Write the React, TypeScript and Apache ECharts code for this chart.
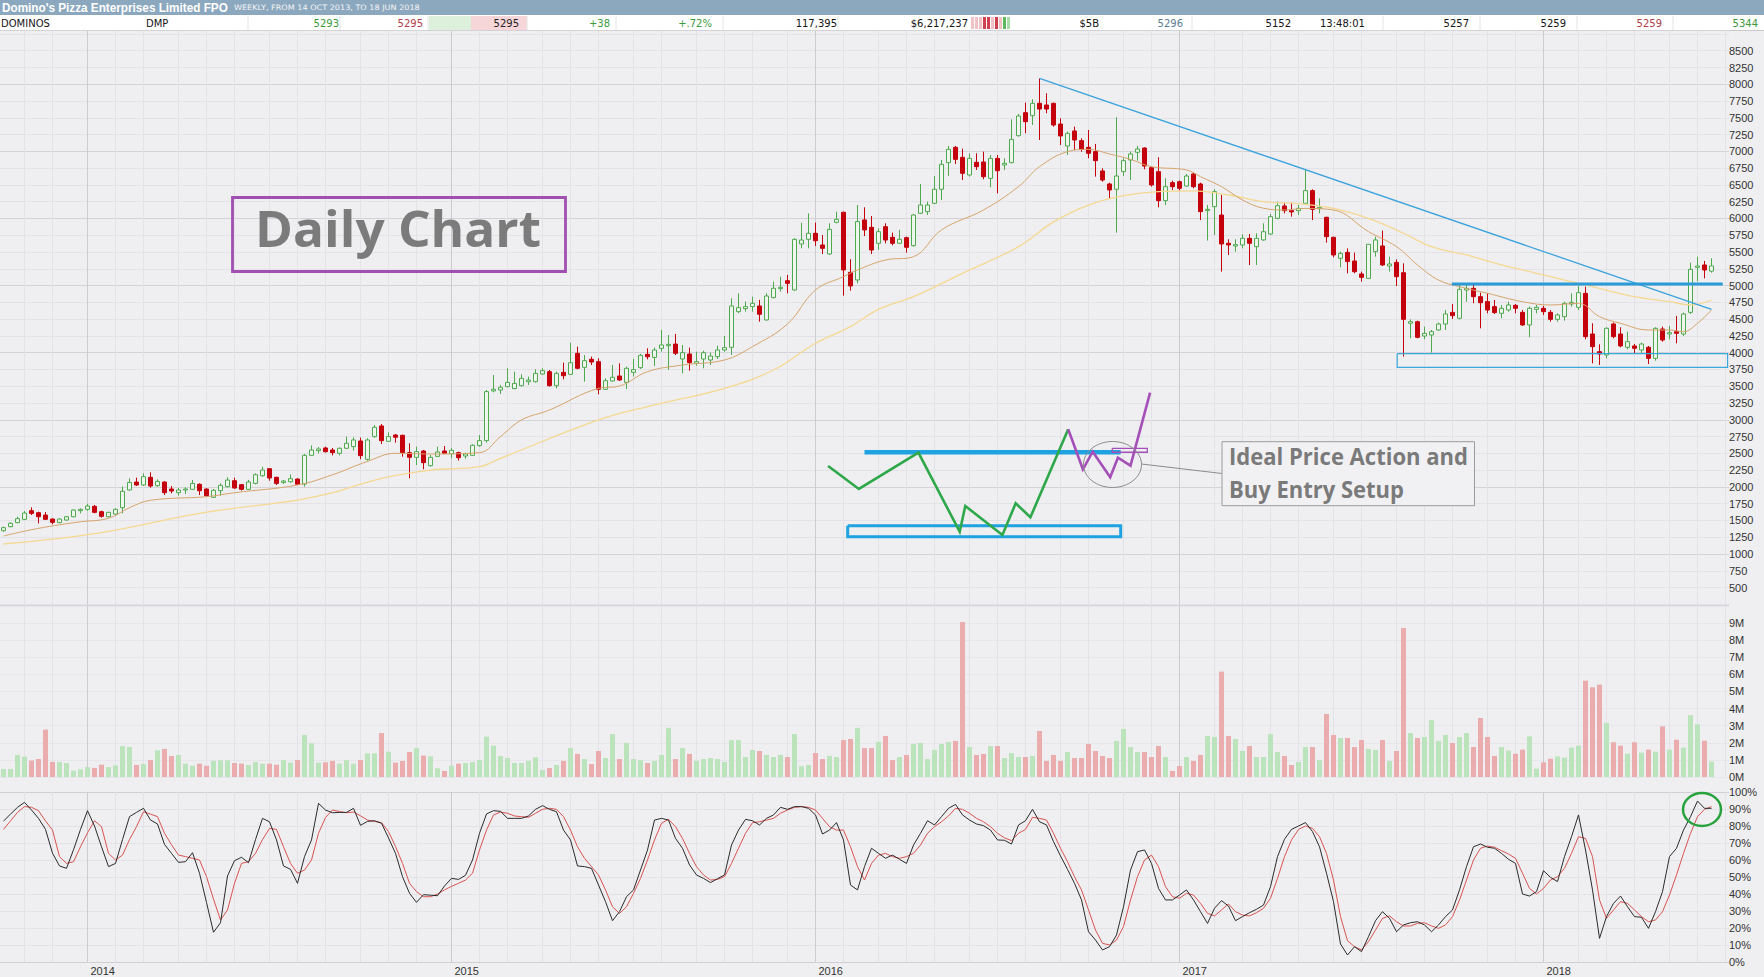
import React, { useEffect, useRef } from "react";
import * as echarts from "echarts";

// ---------------- data (weekly, from 14 Oct 2013) ----------------
const startDate = "2013-10-14";
const slotCount = 247; // 245 weeks + 2 empty slots on the right

const opens = [1347,1407,1467,1516,1645,1615,1580,1521,1467,1506,
1555,1645,1665,1710,1630,1555,1595,1690,1953,2072,
2028,2142,2018,2072,1968,1914,1953,1963,2038,1968,
1844,1943,2003,2092,2033,1963,2052,2166,2271,2142,
2067,2077,2117,2043,2470,2540,2580,2550,2500,2575,
2600,2684,2410,2749,2908,2679,2773,2768,2510,2440,
2535,2316,2455,2535,2495,2510,2460,2470,2615,2689,
3430,3444,3494,3464,3508,3568,3568,3682,3717,3508,
3707,3677,3990,3781,3901,3866,3454,3578,3653,3558,
3707,3777,3975,3930,4065,4104,4129,3906,3980,3841,
3906,3891,3940,4040,4080,4611,4656,4686,4696,4488,
4820,4955,5073,4934,5620,5689,5779,5605,5471,5943,
6092,5197,5084,5978,5868,5630,5878,5719,5630,5714,
5595,6077,6102,6226,6435,6832,7060,6911,6648,6837,
6842,6598,6896,6797,6832,7234,7577,7532,7716,7691,
7716,7408,7080,7304,7160,7060,6996,6708,6514,6435,
6698,6872,6986,7050,6757,6698,6266,6534,6549,6484,
6663,6514,6117,6176,6052,5630,5590,5605,5704,5580,
5680,5769,6002,6186,6117,6117,6226,6415,6146,6017,
5719,5406,5495,5366,5173,5108,5506,5590,5292,5346,
5192,4438,4462,4248,4263,4338,4427,4601,4512,4934,
4959,4835,4761,4686,4587,4636,4706,4601,4413,4646,
4661,4601,4497,4537,4726,4676,4884,4278,4015,3965,
4428,4278,4080,4100,4040,4080,3916,4353,4278,4313,
4278,4601,5272,5307,5215];

const closes = [1392,1457,1526,1610,1605,1555,1516,1471,1521,1555,
1655,1665,1715,1620,1561,1620,1665,1934,2067,2028,
2152,2013,2082,1914,1938,1953,1968,2052,1943,1869,
1948,2023,2102,1983,1963,2072,2181,2251,2132,2052,
2087,2122,2038,2470,2550,2565,2525,2510,2575,2650,
2699,2465,2699,2888,2689,2749,2739,2510,2440,2525,
2361,2440,2520,2500,2545,2435,2490,2620,2689,3420,
3455,3484,3558,3543,3618,3593,3692,3732,3508,3692,
3657,3851,3767,3881,3861,3454,3583,3633,3593,3767,
3747,3960,3940,4040,4115,4124,3990,4000,3851,3866,
4000,3950,4040,4075,4696,4671,4686,4736,4572,4845,
4960,4974,5033,5689,5679,5779,5669,5555,5838,5987,
5233,4994,5953,5829,5530,5803,5679,5630,5689,5570,
6052,6201,6201,6435,6807,7030,6881,6673,6896,6772,
6623,6896,6712,6822,7179,7527,7443,7716,7631,7631,
7393,7229,7269,7170,7030,6971,6862,6573,6425,6633,
6862,6961,7035,6782,6499,6266,6474,6474,6449,6633,
6474,6102,6136,6400,5620,5605,5610,5704,5630,5704,
5803,6027,6191,6117,6097,6151,6415,6136,6166,5729,
5456,5480,5357,5207,5123,5615,5680,5307,5322,5133,
4497,4462,4229,4288,4313,4427,4577,4552,4944,4959,
4835,4745,4636,4597,4661,4711,4661,4413,4661,4676,
4611,4497,4562,4735,4750,4894,4239,4090,3980,4363,
4239,4100,4164,4065,4129,3916,4363,4189,4298,4288,
4577,5242,5292,5232,5293];

const lows = [1332,1397,1457,1506,1580,1456,1506,1442,1457,1496,
1546,1605,1645,1606,1541,1546,1580,1605,1944,2013,
2013,1988,2003,1879,1904,1869,1894,1954,1879,1854,
1834,1869,1993,1973,1944,1954,2038,2152,2092,2028,
2043,2063,2028,2003,2460,2500,2510,2470,2470,2565,
2540,2411,2391,2734,2639,2669,2659,2450,2127,2326,
2262,2301,2445,2490,2425,2391,2420,2460,2599,2659,
3410,3384,3484,3459,3494,3519,3558,3668,3494,3469,
3603,3668,3752,3568,3817,3380,3444,3568,3578,3459,
3643,3757,3901,3802,4015,3742,3966,3693,3732,3807,
3767,3817,3906,4015,3966,4587,4612,4612,4462,4477,
4810,4910,4885,4925,5555,5555,5590,5471,5456,5928,
4850,4925,5034,5739,5471,5531,5630,5600,5620,5491,
5580,6067,6052,6216,6276,6634,6812,6574,6624,6723,
6584,6465,6375,6723,6822,7220,7270,7394,7170,7568,
7369,7096,6947,7021,6996,6897,6624,6549,6301,5789,
6634,6574,6862,6733,6475,6167,6201,6425,6415,6475,
6450,5978,5670,5754,5208,5456,5506,5555,5307,5307,
5670,5754,5988,6077,6027,6052,6216,5978,6077,5640,
5421,5272,5183,5183,5059,5098,5431,5292,5208,4994,
3941,4214,4214,4199,4000,4328,4338,4502,4497,4760,
4736,4363,4587,4577,4512,4612,4587,4398,4229,4587,
4562,4462,4462,4477,4686,4636,4199,3841,3817,3916,
4214,4080,4050,3990,3990,3831,3881,4164,4199,4139,
4249,4577,5059,5108,5193];

const highs = [1407,1472,1556,1640,1695,1630,1625,1531,1531,1566,
1665,1680,1745,1730,1645,1630,1680,2004,2127,2137,
2202,2217,2112,2082,2013,1983,1993,2103,2053,1978,
1968,2053,2142,2137,2043,2103,2202,2301,2276,2152,
2102,2187,2127,2490,2619,2595,2599,2580,2589,2749,
2739,2734,2724,2922,2937,2813,2788,2778,2649,2599,
2550,2475,2599,2609,2575,2525,2510,2634,2773,3444,
3668,3519,3767,3717,3678,3643,3752,3767,3742,3717,
3851,4150,4090,3966,3941,3916,3618,3817,3841,3792,
3906,3981,4065,4075,4338,4264,4279,4115,4075,4015,
4030,4000,4105,4249,4810,4885,4761,4835,4786,4885,
5059,5133,5158,5705,5938,6077,5938,5754,5928,6102,
6102,5392,6201,6166,6037,5853,5928,5789,5829,5729,
6067,6514,6251,6634,6872,7081,7081,7041,6971,6971,
6996,6946,6946,6897,7478,7558,7727,7776,8089,7866,
7727,7493,7294,7369,7195,7319,7111,6748,6534,7508,
6897,6996,7081,7061,6773,6912,6599,6564,6564,6663,
6683,6534,6201,6435,6350,5690,5690,5764,5769,5779,
5928,6067,6251,6236,6236,6201,6723,6435,6301,6027,
5729,5506,5555,5491,5208,5620,5729,5819,5431,5391,
5332,4497,4477,4388,4338,4448,4636,4726,5009,5034,
5009,4895,4885,4785,4711,4760,4726,4636,4686,4711,
4696,4636,4587,4760,4885,4994,4984,4438,4125,4378,
4448,4378,4313,4130,4150,4100,4378,4388,4398,4547,
4597,5342,5431,5367,5406];

// weekly volume, millions of shares
const volumesM = [0.47,0.47,1.29,1.19,0.96,1.05,2.77,0.88,0.88,0.82,
0.37,0.45,0.58,0.53,0.72,0.58,0.68,1.81,1.75,0.70,
0.76,0.99,1.56,1.64,1.23,1.29,0.78,0.66,0.78,0.66,
0.94,0.97,0.97,0.82,0.78,0.70,0.88,0.78,0.78,0.72,
0.99,0.84,0.99,2.46,1.97,0.84,0.86,0.94,0.78,0.99,
0.78,0.99,1.38,1.38,2.57,1.48,0.84,0.94,1.46,1.69,
1.25,1.21,0.51,0.35,0.66,0.78,0.82,0.88,0.99,2.36,
1.83,1.23,1.11,0.82,0.82,0.94,1.15,0.41,0.53,0.70,
0.94,1.70,1.35,1.05,0.76,1.52,1.11,2.51,1.05,1.99,
1.05,0.99,0.82,0.94,1.29,2.87,1.05,1.70,1.35,0.94,
1.05,1.11,1.05,0.88,2.16,2.16,1.17,1.58,1.52,1.29,
1.17,1.29,1.17,2.51,0.64,0.70,1.40,1.05,1.23,1.17,
2.16,2.22,2.87,1.69,1.69,2.05,2.40,0.99,1.17,1.29,
1.93,1.99,1.05,1.58,1.93,2.05,2.11,9.06,1.75,1.29,
1.35,1.81,1.81,1.11,1.40,1.17,1.17,1.23,2.69,0.94,
1.29,0.94,1.46,1.11,1.11,1.93,1.52,1.23,1.11,2.11,
2.81,1.75,1.46,1.46,1.17,1.81,1.17,0.35,0.64,1.17,
0.94,1.29,2.40,2.34,6.16,2.40,2.22,1.52,1.81,1.17,
1.17,2.51,1.46,1.23,0.70,0.88,1.75,1.75,0.99,3.68,
2.46,2.28,2.28,1.75,2.16,1.64,1.58,2.16,0.94,1.52,
8.71,2.57,2.28,2.34,3.33,2.11,2.46,1.99,2.34,2.57,
1.75,3.45,2.34,1.23,1.75,1.54,1.36,1.60,2.38,0.49,
0.86,1.07,1.21,1.13,1.72,1.83,5.63,5.24,5.40,3.16,
2.03,1.83,1.36,2.03,1.42,1.60,1.48,2.96,1.60,2.18,
1.72,3.61,3.08,2.12,0.90];

// stochastic %K (black) and %D (red), percent
const stochK = [82.9,87,91,93.9,89.4,84.5,78,64,56.5,55.1,
66,78,89,80,67.8,56.1,58,72,85.5,88,
90.4,83.5,81.2,69.2,63.9,58.6,59,64.3,52.2,35,
17.5,23.1,50.6,59.6,61.6,58.4,72,84.5,82.5,71.8,
56.5,54.5,46.3,62,71.8,93.3,89.4,87.8,88,88,
90.4,80.4,82.7,83.1,81.6,73,63.9,50.2,40.4,35.1,
39.6,39.3,39,44.7,49.2,48.6,51,60,75.7,87.1,
89,88.6,84.5,84.5,84.5,85.9,89.8,92,89.8,88.4,
77.6,71.8,56.5,56.1,55.1,45.3,35.5,24.3,29.6,38.4,
42.4,54.1,65.9,83.5,84.5,83.5,72.7,66.9,57.1,51.2,
49.2,46.7,49,51.2,68.8,77.6,83.9,83.1,80.6,84.5,
86.5,91,89.8,91.4,91.4,90.4,86.5,75.3,77.6,82,
71.8,45.3,42.4,56.1,66.9,63.9,61,62.9,60.4,58,
68.8,75.7,83.1,80.6,85.5,90.4,92.7,86.5,83.5,81.2,
80.2,77.6,71.8,71.6,69.4,80.6,83.1,89.8,82.5,80.6,
70.8,62.4,54.5,46.3,36.5,17.8,12.9,7.1,9,15.9,
32.5,54.1,64.9,65.9,58,43.3,36.5,36.5,39.4,42.4,
36.5,29.6,22.7,31.6,36.1,32.9,24.3,26.7,29,31,
33.5,44.3,62,72.2,78,80,82,76.7,67.8,52.2,
35.5,10.6,4.1,9,6.1,14.9,24.3,29.6,25.7,17.8,
21.8,23.1,23.7,21.8,17.8,21.8,26.7,30.6,42.4,56.1,
67.8,69.4,67.5,66.9,63.9,60.4,58,40,38.8,41.4,
53.7,49.8,47.3,62,73.7,86.5,65.9,42.4,13.9,26.7,
34.5,38.8,32.5,26.7,26.3,19.8,29.6,41.4,62,66.9,
77.6,85.5,94.7,90.4,90.4];

const stochD = [78,83,88,91.4,91,89,83,77.6,62,58,
59,67.8,76,83.1,79.6,63.9,60,62.9,72,79.6,
88.4,87,85.5,75.7,69,62.9,62,61,60,50.2,
37,24.7,30.6,46.3,58,59,63.9,72,78.6,78,
67.8,58,52.2,54.1,60,75.7,85,89.4,88.5,87.8,
88.2,86,83.5,82.7,82,76.7,68,58,46.3,41.4,
38.4,38.4,40,42.4,44.5,46.3,48.2,52.2,65.9,77.6,
86.5,88.2,87.5,85.9,85.5,85.1,87.5,89.8,90.4,89.8,
85.5,77.6,67.8,61,56.1,51.2,42.4,32.5,28.6,32.5,
40.4,49.2,60,71.8,81.6,83.9,79.6,72.7,63.9,56.1,
51.2,48.2,48.6,50.2,58,66.9,75.7,82,82.5,83.5,
84.5,87.5,89.4,91,91.4,91,89.4,84.5,79.6,77.6,
77.6,67.8,56.1,48.2,58,62.9,63.9,62,61,62,
63.9,68.8,75.7,79.6,82.5,85.9,90.4,89.8,87.5,84.5,
82.5,79.6,75.7,73,71.4,75.7,78,85.1,84.5,83.5,
75.7,66.9,59,50.2,42.4,30.6,18.8,11,10,12.9,
20.8,36.5,50.2,60,62.9,56.1,44.3,38.4,37.5,40.4,
39.4,34.5,28.6,27.1,30.6,34.1,29.6,27.6,27.1,29,
31.6,37.5,49.2,62,71.8,78,80,78.6,73.7,63.9,
48.2,26.7,12.5,9,7.1,12,18.8,25.7,27.1,23.7,
21.2,21.2,22.7,23.1,21.2,19.8,21.8,26.7,36.5,48.2,
60,66.9,68.2,67.5,65.5,63.5,61,52.2,43.3,40,
43.3,48.2,50.2,55.1,63.9,73.7,72.7,62,36.5,25.7,
30.6,35.5,34.5,30.6,26.7,23.7,24.7,29.6,39.4,51.2,
63.9,75.7,85.5,89.8,91.4];

// moving averages: [week index, price]
const maFast = [[0,1268],[5,1382],[11,1480],[15,1531],[18,1690],[21,1800],[29,1854],[33,1913],[42,2028],[47,2180],[52,2380],[56,2500],[61,2490],[68,2510],[71,2749],[74,2997],[78,3146],[85,3469],[88,3503],[92,3717],[97,3816],[103,3891],[107,4090],[112,4428],[116,4934],[120,5133],[122,5233],[126,5381],[130,5431],[134,5829],[140,6127],[145,6474],[148,6772],[152,6996],[155,7030],[158,6961],[161,6881],[164,6772],[169,6723],[171,6623],[174,6474],[177,6276],[180,6152],[183,6127],[186,6150],[190,6127],[195,5804],[199,5580],[202,5307],[205,5083],[208,4984],[212,4885],[217,4760],[221,4711],[225,4735],[228,4537],[231,4438],[235,4338],[238,4338],[240,4313],[242,4438],[244,4637]];
const maSlow = [[0,1149],[14,1318],[28,1606],[42,1804],[47,1913],[54,2127],[61,2251],[68,2301],[71,2426],[85,2997],[92,3196],[103,3469],[110,3742],[116,4140],[121,4388],[125,4646],[130,4835],[137,5183],[145,5580],[150,5950],[155,6200],[160,6340],[165,6400],[170,6410],[175,6350],[180,6250],[185,6220],[190,6150],[195,6000],[200,5780],[204,5580],[209,5456],[214,5307],[219,5183],[223,5083],[228,4959],[233,4835],[238,4760],[241,4711],[244,4785]];

// drawn annotations: [week index, price]
const trendLine = [[148,8089],[244,4647]];
const resistanceLine = [[206.9,5024],[245.6,5024]];
const supportBox = [[199.1,3985],[246.3,3985],[246.3,3782],[199.1,3782],[199.1,3985]];
const idealResistance = [[123.0,2516],[159.6,2516]];
const idealBox = [[120.6,1422],[159.6,1422],[159.6,1258],[120.6,1258],[120.6,1422]];
const idealGreen = [[117.8,2311],[122.2,1969],[130.7,2510],[136.6,1332],[137.4,1715],[142.7,1283],[144.6,1755],[146.7,1547],[152.1,2858]];
const idealPurple = [[152.1,2858],[154.2,2262],[155.6,2525],[158.1,2143],[159.2,2435],[161.0,2316],[163.8,3404]];
const entryBox = [[158.4,2575],[163.4,2575],[163.4,2516],[158.4,2516],[158.4,2575]];

// header strip
const titleText = "Domino's Pizza Enterprises Limited FPO";
const subtitleText = "WEEKLY, FROM 14 OCT 2013, TO 18 JUN 2018";
const headerValues = ["DOMINOS","DMP","5293","5295","5295","+38","+.72%","117,395","$6,217,237","$5B","5296","5152","13:48:01","5257","5259","5259","5344"];

// ---------------- layout / styles ----------------
const GREEN_TXT = "#3c9a3c", RED_TXT = "#b0404c", DARK = "#151515";
const headerLayout = [
  { x: 1, align: "left", color: DARK }, { x: 146, align: "left", color: DARK },
  { x: 339, align: "right", color: GREEN_TXT }, { x: 423, align: "right", color: RED_TXT },
  { x: 519, align: "right", color: "#222" }, { x: 610, align: "right", color: GREEN_TXT },
  { x: 712, align: "right", color: GREEN_TXT }, { x: 837, align: "right", color: DARK },
  { x: 968, align: "right", color: DARK }, { x: 1099, align: "right", color: DARK },
  { x: 1183, align: "right", color: "#5c7c94" }, { x: 1291, align: "right", color: DARK },
  { x: 1320, align: "left", color: DARK }, { x: 1469, align: "right", color: DARK },
  { x: 1566, align: "right", color: DARK }, { x: 1662, align: "right", color: RED_TXT },
  { x: 1758, align: "right", color: GREEN_TXT },
];
const headerSeparators = [248, 340, 428, 527, 616, 723, 838, 1192, 1383, 1480, 1577, 1673];
const miniBarColors = ["#f0c2c6","#f0c2c6","#f0c2c6","#d0404c","#d0404c","#f0c2c6","#d0404c","#f0c2c6","#5cb85c","#a8dca8"];

const START_MS = Date.parse(startDate + "T00:00:00Z");
const WEEK_MS = 7 * 86400000;
const slotDate = (i: number) => new Date(START_MS + i * WEEK_MS);
const categories = Array.from({ length: slotCount }, (_, i) => slotDate(i).toISOString().slice(0, 10));
const isMonthStart = (i: number) => slotDate(i).getUTCDate() <= 7;
const isYearStart = (i: number) => { const d = slotDate(i); return d.getUTCDate() <= 7 && d.getUTCMonth() === 0; };

function measure(text: string, font: string): number {
  const c = document.createElement("canvas");
  const ctx = c.getContext("2d");
  if (!ctx) return 0;
  ctx.font = font;
  return ctx.measureText(text).width;
}
function fit(text: string, font: string, target: number): number {
  const w = measure(text, font);
  return w > 0 ? target / w : 1;
}

const BG = "#efeff1";
const GRID_W = 1729;
const axisFont = { fontFamily: "Liberation Sans", fontSize: 11, color: "#333" };
const FAINT = "#e3e3e7", DARKLINE = "#d2d2d7";
const TOP_Z = 100;

function catAxis(gridIndex: number, position: string, yearly: boolean, labels: boolean): any {
  return {
    type: "category", gridIndex, position, data: categories, boundaryGap: true,
    axisLine: { show: false }, axisTick: { show: false },
    axisLabel: labels
      ? { show: true, interval: (i: number) => isYearStart(i), formatter: (v: string) => v.slice(0, 4), align: "left", padding: [0, 0, 0, 3], margin: 3, ...axisFont }
      : { show: false },
    splitLine: {
      show: true,
      interval: (i: number) => (yearly ? isYearStart(i) : isMonthStart(i)),
      alignWithLabel: true,
      lineStyle: { color: yearly ? "#cbcbd0" : FAINT, width: 1 },
    },
  };
}

function annot(data: number[][], color: string, width: number, extra: any = {}): any {
  return {
    type: "line", xAxisIndex: 6, yAxisIndex: 0, data, symbol: "none", silent: true,
    lineStyle: { color, width, join: "miter" }, z: 5, ...extra,
  };
}

function buildOption(): any {
  const daily = "Daily Chart";
  const dailyFont = 'bold 50px "Open Sans"';
  const line1 = "Ideal Price Action and";
  const line2 = "Buy Entry Setup";
  const idealFont = 'bold 23px "Open Sans"';
  const titleFont = 'bold 12px "Liberation Sans"';
  const subFont = '7.5px "DejaVu Sans"';

  const graphic: any[] = [
    { type: "rect", silent: true, shape: { x: 0, y: 0, width: 1764, height: 15 }, style: { fill: "#8ca8be" } },
    { type: "text", silent: true, x: 2, y: 7.5, scaleX: fit(titleText, titleFont, 226),
      style: { text: titleText, fill: "#ffffff", fontSize: 12, fontWeight: "bold", fontFamily: "Liberation Sans", align: "left", verticalAlign: "middle" } },
    { type: "text", silent: true, x: 234, y: 8, scaleX: fit(subtitleText, subFont, 186),
      style: { text: subtitleText, fill: "#f2f5f8", fontSize: 7.5, fontFamily: "DejaVu Sans", align: "left", verticalAlign: "middle" } },
    { type: "rect", silent: true, shape: { x: 0, y: 15, width: 1764, height: 16 }, style: { fill: "#ffffff" } },
    { type: "rect", silent: true, shape: { x: 429, y: 16, width: 42, height: 14 }, style: { fill: "#dcf0dc" } },
    { type: "rect", silent: true, shape: { x: 471, y: 16, width: 56, height: 14 }, style: { fill: "#f6d6d8" } },
    { type: "line", silent: true, shape: { x1: 0, y1: 30.5, x2: 1764, y2: 30.5 }, style: { stroke: "#c9c9cc", lineWidth: 1 } },
    ...headerSeparators.map((x) => ({ type: "line", silent: true, shape: { x1: x, y1: 16, x2: x, y2: 30 }, style: { stroke: "#e4e4e4", lineWidth: 1 } })),
    ...miniBarColors.map((c, k) => ({ type: "rect", silent: true, shape: { x: 971 + k * 4, y: 17, width: 3, height: 12 }, style: { fill: c } })),
    ...headerValues.map((t, k) => ({
      type: "text", silent: true, x: headerLayout[k].x, y: 23,
      style: { text: t, fill: headerLayout[k].color, fontSize: 10, fontFamily: "DejaVu Sans", align: headerLayout[k].align, verticalAlign: "middle" },
    })),
    // pane separator
    { type: "line", silent: true, shape: { x1: 0, y1: 605.5, x2: GRID_W, y2: 605.5 }, style: { stroke: "#d6d6da", lineWidth: 1 } },
    // Daily Chart box
    { type: "rect", silent: true, z: TOP_Z, shape: { x: 232.5, y: 197.5, width: 333, height: 74 }, style: { fill: "none", stroke: "#a050b0", lineWidth: 2.8 } },
    { type: "text", silent: true, z: TOP_Z, x: 398, y: 228, scaleX: fit(daily, dailyFont, 286),
      style: { text: daily, fill: "#7b7b7b", fontSize: 50, fontWeight: "bold", fontFamily: "Open Sans", align: "center", verticalAlign: "middle" } },
    // ideal price action call-out
    { type: "ellipse", silent: true, z: TOP_Z, shape: { cx: 1112.5, cy: 464.5, rx: 29, ry: 23 }, style: { fill: "none", stroke: "#8c8c8c", lineWidth: 1 } },
    { type: "line", silent: true, z: TOP_Z, shape: { x1: 1141.5, y1: 464, x2: 1222, y2: 473.5 }, style: { stroke: "#8c8c8c", lineWidth: 1 } },
    { type: "rect", silent: true, z: TOP_Z, shape: { x: 1222, y: 441.7, width: 252.5, height: 64 }, style: { fill: "#f1f1f3", stroke: "#9c9c9c", lineWidth: 1 } },
    { type: "text", silent: true, z: TOP_Z, x: 1229, y: 456.2, scaleX: fit(line1, idealFont, 239),
      style: { text: line1, fill: "#7a7a7a", fontSize: 23, fontWeight: "bold", fontFamily: "Open Sans", align: "left", verticalAlign: "middle" } },
    { type: "text", silent: true, z: TOP_Z, x: 1229, y: 489.5, scaleX: fit(line2, idealFont, 175),
      style: { text: line2, fill: "#7a7a7a", fontSize: 23, fontWeight: "bold", fontFamily: "Open Sans", align: "left", verticalAlign: "middle" } },
    // stochastic highlight
    { type: "ellipse", silent: true, z: TOP_Z, shape: { cx: 1702, cy: 809.5, rx: 19, ry: 16.5 }, style: { fill: "none", stroke: "#27a23c", lineWidth: 2.5 } },
  ];

  return {
    animation: false,
    backgroundColor: BG,
    grid: [
      { left: 0, top: 30.6, width: GRID_W, height: 573.7, outerBoundsMode: "none" },
      { left: 0, top: 605.9, width: GRID_W, height: 171.1, outerBoundsMode: "none" },
      { left: 0, top: 792, width: GRID_W, height: 170, outerBoundsMode: "none" },
    ],
    xAxis: [
      catAxis(0, "bottom", false, false),
      catAxis(0, "top", true, false),
      catAxis(1, "bottom", false, false),
      catAxis(1, "top", true, false),
      catAxis(2, "top", false, false),
      catAxis(2, "bottom", true, true),
      { type: "value", gridIndex: 0, min: -0.5, max: slotCount - 0.5, show: false },
    ],
    yAxis: [
      {
        type: "value", gridIndex: 0, position: "right", min: 250, max: 8800, interval: 250,
        axisLine: { show: false }, axisTick: { show: false },
        axisLabel: { margin: 0, formatter: (v: number) => (v >= 500 && v <= 8500 ? String(v) : ""), ...axisFont },
        splitLine: { show: true, lineStyle: { color: [FAINT, FAINT, FAINT, DARKLINE], width: 1 } },
      },
      {
        type: "value", gridIndex: 1, position: "right", min: 0, max: 10, interval: 1,
        axisLine: { show: false }, axisTick: { show: false },
        axisLabel: { margin: 0, formatter: (v: number) => (v <= 9 ? v + "M" : ""), ...axisFont },
        splitLine: { show: true, lineStyle: { color: "#e7e7eb", width: 1 } },
      },
      {
        type: "value", gridIndex: 2, position: "right", min: 0, max: 100, interval: 10,
        axisLine: { show: false }, axisTick: { show: false },
        axisLabel: { margin: 0, formatter: (v: number) => v + "%", ...axisFont },
        splitLine: { show: true, lineStyle: { color: ["#cfcfd4", FAINT, FAINT, FAINT, FAINT, FAINT, FAINT, FAINT, FAINT, FAINT, "#cfcfd4"], width: 1 } },
      },
    ],
    series: [
      {
        type: "candlestick", xAxisIndex: 0, yAxisIndex: 0, barWidth: 5, silent: true,
        data: opens.map((o, i) => [o, closes[i], lows[i], highs[i]]),
        itemStyle: { color: "#eef6ee", color0: "#c4000c", borderColor: "#4fa94f", borderColor0: "#c4000c", borderWidth: 1 },
      },
      annot(maSlow, "#f5d891", 1.3, { smooth: 0.4, z: 3 }),
      annot(maFast, "#d6a46c", 1, { smooth: 0.4, z: 3 }),
      annot(trendLine, "#3aa3dc", 1.3),
      annot(resistanceLine, "#2a9ad8", 3),
      annot(supportBox, "#3aa8dc", 1.2),
      annot(idealBox, "#1ea2e0", 3),
      annot(idealResistance, "#1ea2e0", 4.5),
      annot(idealGreen, "#2ea84a", 2.6),
      annot(idealPurple, "#a550b8", 2.6),
      annot(entryBox, "#a550b8", 1.3),
      {
        type: "bar", xAxisIndex: 2, yAxisIndex: 1, barWidth: 5, silent: true,
        data: volumesM.map((v, i) => ({ value: v, itemStyle: { color: closes[i] >= opens[i] ? "#bce4bc" : "#eaacac" } })),
      },
      { type: "line", xAxisIndex: 4, yAxisIndex: 2, data: stochD, symbol: "none", silent: true, lineStyle: { color: "#d9534f", width: 1 } },
      { type: "line", xAxisIndex: 4, yAxisIndex: 2, data: stochK, symbol: "none", silent: true, lineStyle: { color: "#2b2b2b", width: 1 } },
    ],
    graphic,
  };
}

export default function App() {
  const ref = useRef<HTMLDivElement>(null);
  useEffect(() => {
    if (!ref.current) return;
    const chart = echarts.init(ref.current, undefined, { renderer: "svg", width: 1764, height: 977 });
    chart.setOption(buildOption());
    return () => chart.dispose();
  }, []);
  return <div ref={ref} style={{ position: "fixed", left: 0, top: 0, width: 1764, height: 977 }} />;
}
